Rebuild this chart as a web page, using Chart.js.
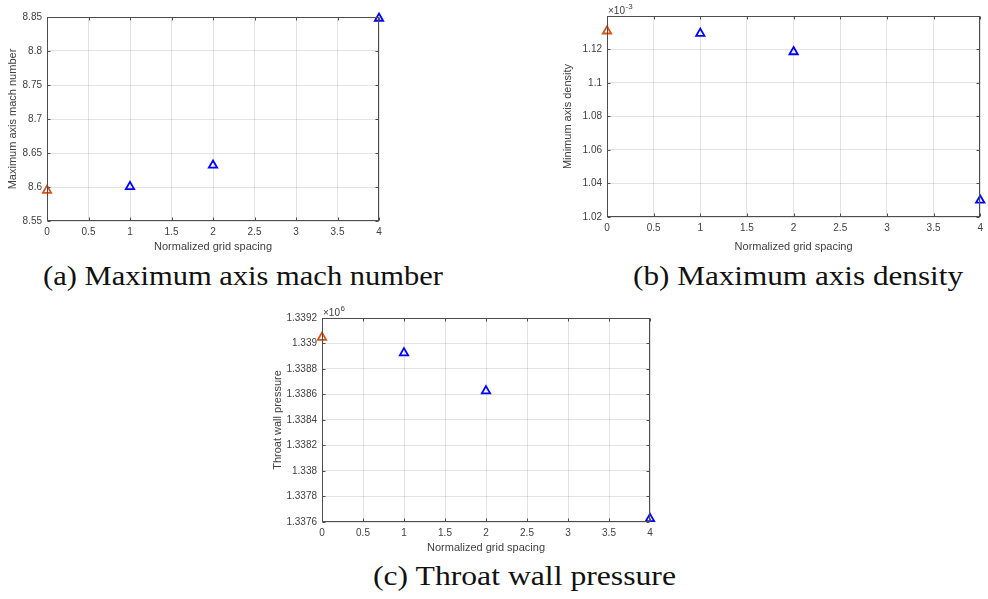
<!DOCTYPE html>
<html>
<head>
<meta charset="utf-8">
<script src="https://cdn.jsdelivr.net/npm/chart.js@4.4.1/dist/chart.umd.min.js"></script>
<style>
  body { margin: 0; background: #fff; width: 988px; height: 599px; position: relative; overflow: hidden; }
  canvas { position: absolute; }
  .cap { position: absolute; font-family: "Liberation Serif", "DejaVu Serif", serif; font-size: 27px; line-height: 30px; color: #111; white-space: nowrap; transform-origin: 0 0; }
  .probe { display: inline-block; width: 0; height: 0; vertical-align: baseline; }
</style>
</head>
<body>
<canvas id="chartA" width="400" height="260" style="left:0px;top:0px"></canvas>
<canvas id="chartB" width="448" height="260" style="left:540px;top:0px"></canvas>
<canvas id="chartC" width="400" height="260" style="left:270px;top:300px"></canvas>

<div class="cap" data-left="42.7" data-base="285.3" data-width="400">(a) Maximum axis mach number</div>
<div class="cap" data-left="633.3" data-base="285.3" data-width="330">(b) Maximum axis density</div>
<div class="cap" data-left="372.7" data-base="585" data-width="303">(c) Throat wall pressure</div>

<script>
// grid spacing: x = 0 is the reference point, 1/2/4 are the runs
const refX = [0];
const runX = [1, 2, 4];
const xTicks = [0, 0.5, 1, 1.5, 2, 2.5, 3, 3.5, 4];

// (a) maximum axis mach number
const machRef = [8.595];
const machRuns = [8.6005, 8.632, 8.848];
const machTicks = [8.55, 8.6, 8.65, 8.7, 8.75, 8.8, 8.85];

// (b) minimum axis density, x10^-3
const densRef = [1.131];
const densRuns = [1.1296, 1.1186, 1.030];
const densTicks = [1.02, 1.04, 1.06, 1.08, 1.1, 1.12];

// (c) throat wall pressure, x10^6
const presRef = [1.339048];
const presRuns = [1.338926, 1.338628, 1.337626];
const presTicks = [1.3376, 1.3378, 1.338, 1.3382, 1.3384, 1.3386, 1.3388, 1.339, 1.3392];

const orange = '#D95319';
const blue = '#0000FF';
const axisColor = '#4d4d4d';
const textColor = '#404040';
const gridColor = 'rgba(38,38,38,0.13)';
const tickFont = { family: 'Liberation Sans, Arial, sans-serif', size: 10 };
const titleFont = { family: 'Liberation Sans, Arial, sans-serif', size: 11 };

const pts = (xs, ys) => xs.map((x, i) => ({ x: x, y: ys[i] }));

// matlab style box, inward tick marks and the x10^n label
const boxPlugin = {
  id: 'matlabBox',
  afterDraw(chart, args, opts) {
    const { ctx, chartArea: a, scales } = chart;
    const L = Math.round(a.left) + 0.5, R = Math.round(a.right) - 0.5;
    const T = Math.round(a.top) + 0.5, B = Math.round(a.bottom) - 0.5;
    const tl = 3;
    ctx.save();
    ctx.strokeStyle = axisColor;
    ctx.lineWidth = 1;
    ctx.beginPath();
    scales.x.ticks.forEach(t => {
      const px = Math.round(scales.x.getPixelForValue(t.value)) + 0.5;
      ctx.moveTo(px, B); ctx.lineTo(px, B - tl);
      ctx.moveTo(px, T); ctx.lineTo(px, T + tl);
    });
    scales.y.ticks.forEach(t => {
      const py = Math.round(scales.y.getPixelForValue(t.value)) + 0.5;
      ctx.moveTo(L, py); ctx.lineTo(L + tl, py);
      ctx.moveTo(R, py); ctx.lineTo(R - tl, py);
    });
    ctx.stroke();
    ctx.strokeRect(L, T, R - L, B - T);
    if (opts.exponent) {
      ctx.fillStyle = textColor;
      ctx.textBaseline = 'alphabetic';
      ctx.font = '10px Liberation Sans, Arial, sans-serif';
      const base = a.top - 2;
      ctx.fillText('\u00d710', a.left + 1, base);
      const w = ctx.measureText('\u00d710').width;
      ctx.font = '8px Liberation Sans, Arial, sans-serif';
      ctx.fillText(opts.exponent, a.left + 1.5 + w, base - 5);
    }
    ctx.restore();
  }
};

function makeChart(id, cfg) {
  const ds = (data, color) => ({
    data: data,
    showLine: false,
    pointStyle: 'triangle',
    pointRadius: 4.8,
    pointBorderWidth: 1.8,
    pointBorderColor: color,
    pointBackgroundColor: 'rgba(255,255,255,0)',
    clip: false
  });
  return new Chart(document.getElementById(id), {
    type: 'scatter',
    data: {
      datasets: [
        ds(pts(refX, cfg.ref), orange),
        ds(pts(runX, cfg.runs), blue)
      ]
    },
    options: {
      responsive: false,
      animation: false,
      events: [],
      layout: { padding: cfg.pad },
      plugins: {
        legend: { display: false },
        tooltip: { enabled: false },
        matlabBox: { exponent: cfg.exponent }
      },
      scales: {
        x: {
          type: 'linear', min: 0, max: 4,
          afterBuildTicks: s => { s.ticks = xTicks.map(v => ({ value: v })); },
          afterFit: s => { s.height = cfg.xH; },
          ticks: { autoSkip: false, maxRotation: 0, padding: 5, color: textColor, font: tickFont, callback: v => String(v) },
          grid: { color: gridColor, drawTicks: false },
          border: { display: false },
          title: { display: true, text: 'Normalized grid spacing', color: textColor, font: titleFont, padding: { top: 0, bottom: cfg.xTitlePad } }
        },
        y: {
          type: 'linear', min: cfg.yTicks[0], max: cfg.yMax,
          afterBuildTicks: s => { s.ticks = cfg.yTicks.map(v => ({ value: v })); },
          afterFit: s => { s.width = cfg.yW; },
          ticks: { autoSkip: false, padding: 5, color: textColor, font: tickFont, callback: v => String(v) },
          grid: { color: gridColor, drawTicks: false },
          border: { display: false },
          title: { display: true, text: cfg.yLabel, color: textColor, font: titleFont, padding: { top: cfg.yTitlePad, bottom: 0 } }
        }
      }
    },
    plugins: [boxPlugin]
  });
}

makeChart('chartA', {
  ref: machRef, runs: machRuns, yTicks: machTicks, yMax: 8.85,
  yLabel: 'Maximum axis mach number',
  pad: { left: 0, top: 17, right: 21, bottom: 0 },
  yW: 47, xH: 39, xTitlePad: 6, yTitlePad: 6
});

makeChart('chartB', {
  ref: densRef, runs: densRuns, yTicks: densTicks, yMax: 1.14,
  yLabel: 'Minimum axis density', exponent: '-3',
  pad: { left: 0, top: 16, right: 6, bottom: 0 },
  yW: 67, xH: 43, xTitlePad: 6, yTitlePad: 21
});

makeChart('chartC', {
  ref: presRef, runs: presRuns, yTicks: presTicks, yMax: 1.3392,
  yLabel: 'Throat wall pressure', exponent: '6',
  pad: { left: 0, top: 18, right: 20, bottom: 0 },
  yW: 52, xH: 38, xTitlePad: 5, yTitlePad: 1.5
});

// captions: fit width and put the baseline where the figure has it
document.querySelectorAll('.cap').forEach(el => {
  const probe = document.createElement('span');
  probe.className = 'probe';
  el.appendChild(probe);
  const w = el.getBoundingClientRect().width;
  const baseOff = probe.offsetTop;
  el.style.left = el.dataset.left + 'px';
  el.style.top = (parseFloat(el.dataset.base) - baseOff) + 'px';
  el.style.transform = 'scaleX(' + (parseFloat(el.dataset.width) / w) + ')';
});
</script>
</body>
</html>
